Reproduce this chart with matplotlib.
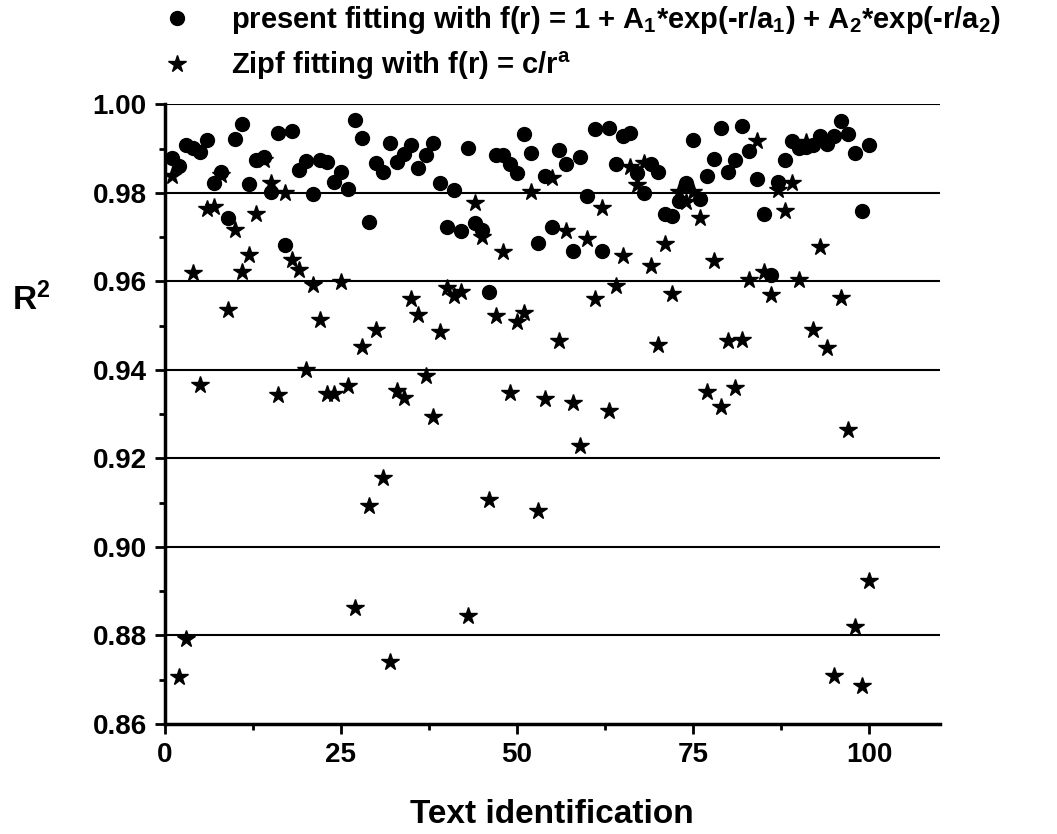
import numpy as np
from matplotlib import pyplot as plt
from matplotlib.ticker import MultipleLocator

plt.rcParams['font.family'] = ['Liberation Sans Narrow', 'Liberation Sans', 'DejaVu Sans']
plt.rcParams['font.weight'] = 'bold'
plt.rcParams['mathtext.default'] = 'regular'

text_id = list(range(1, 101))

present_r2 = [
    0.9879, 0.9860, 0.9907, 0.9901, 0.9891, 0.9920, 0.9822, 0.9847, 0.9743, 0.9921,
    0.9956, 0.9820, 0.9873, 0.9881, 0.9801, 0.9935, 0.9682, 0.9940, 0.9851, 0.9872,
    0.9798, 0.9875, 0.9869, 0.9824, 0.9848, 0.9809, 0.9964, 0.9924, 0.9734, 0.9868,
    0.9846, 0.9913, 0.9870, 0.9887, 0.9907, 0.9856, 0.9885, 0.9913, 0.9822, 0.9723,
    0.9806, 0.9713, 0.9902, 0.9732, 0.9716, 0.9576, 0.9886, 0.9886, 0.9865, 0.9845,
    0.9932, 0.9890, 0.9686, 0.9838, 0.9722, 0.9896, 0.9864, 0.9669, 0.9881, 0.9793,
    0.9945, 0.9668, 0.9947, 0.9865, 0.9928, 0.9934, 0.9844, 0.9800, 0.9865, 0.9846,
    0.9752, 0.9748, 0.9781, 0.9821, 0.9920, 0.9785, 0.9838, 0.9877, 0.9947, 0.9846,
    0.9874, 0.9951, 0.9895, 0.9830, 0.9752, 0.9614, 0.9825, 0.9874, 0.9917, 0.9902,
    0.9904, 0.9907, 0.9928, 0.9911, 0.9928, 0.9962, 0.9932, 0.9889, 0.9759, 0.9907,
]

zipf_r2 = [
    0.9838, 0.8705, 0.8792, 0.9618, 0.9365, 0.9764, 0.9767, 0.9840, 0.9535, 0.9715,
    0.9620, 0.9659, 0.9752, 0.9873, 0.9823, 0.9344, 0.9800, 0.9647, 0.9626, 0.9400,
    0.9592, 0.9513, 0.9346, 0.9346, 0.9598, 0.9364, 0.8863, 0.9452, 0.9093, 0.9490,
    0.9155, 0.8741, 0.9352, 0.9336, 0.9560, 0.9524, 0.9385, 0.9294, 0.9486, 0.9584,
    0.9567, 0.9575, 0.8843, 0.9776, 0.9699, 0.9106, 0.9522, 0.9667, 0.9348, 0.9509,
    0.9528, 0.9801, 0.9080, 0.9334, 0.9834, 0.9464, 0.9714, 0.9326, 0.9228, 0.9695,
    0.9559, 0.9765, 0.9307, 0.9589, 0.9657, 0.9858, 0.9817, 0.9868, 0.9634, 0.9456,
    0.9684, 0.9571, 0.9802, 0.9780, 0.9802, 0.9743, 0.9351, 0.9646, 0.9317, 0.9464,
    0.9358, 0.9467, 0.9604, 0.9917, 0.9622, 0.9570, 0.9807, 0.9759, 0.9823, 0.9604,
    0.9915, 0.9490, 0.9678, 0.9450, 0.8708, 0.9563, 0.9263, 0.8818, 0.8685, 0.8923,
]

fig = plt.figure(figsize=(10.57, 8.34), dpi=100)
ax = fig.add_axes([0.156, 0.132, 0.733, 0.743])

for yv in np.arange(0.88, 1.001, 0.02):
    ax.axhline(yv, color='black', lw=1.5, zorder=1)

p1, = ax.plot(text_id, present_r2, 'o', color='black', ms=10, ls='none', zorder=3,
              label='present fitting with f(r) = 1 + A$_1$*exp(-r/a$_1$) + A$_2$*exp(-r/a$_2$)')
p2, = ax.plot(text_id, zipf_r2, '*', color='black', ms=13, ls='none', zorder=3,
              label='Zipf fitting with f(r) = c/r$^a$')

ax.set_xlim(0, 110)
ax.set_ylim(0.86, 1.0)
ax.xaxis.set_major_locator(MultipleLocator(25))
ax.xaxis.set_minor_locator(MultipleLocator(12.5))
ax.yaxis.set_major_locator(MultipleLocator(0.02))
ax.yaxis.set_minor_locator(MultipleLocator(0.01))
ax.yaxis.set_major_formatter(plt.FormatStrFormatter('%.2f'))

for s in ['top', 'right']:
    ax.spines[s].set_visible(False)
for s in ['left', 'bottom']:
    ax.spines[s].set_linewidth(2.5)

ax.tick_params(which='major', direction='out', length=7, width=2, labelsize=20, pad=6)
ax.tick_params(which='minor', direction='out', length=4, width=2)

ax.set_xlabel('Text identification', fontsize=24, fontweight='bold',
              family=['Liberation Sans', 'DejaVu Sans'], labelpad=22)
ax.set_ylabel('R$^2$', fontsize=24, fontweight='bold', rotation=0,
              family=['Liberation Sans', 'DejaVu Sans'], va='center', ha='center')
ax.yaxis.set_label_coords(-0.172, 0.685)

fig.legend(handles=[p1, p2], loc='upper left', bbox_to_anchor=(0.151, 1.0),
           frameon=False, fontsize=21, handlelength=0.9, handletextpad=1.4,
           borderpad=0.15, borderaxespad=0.0, labelspacing=0.45, markerscale=1.0)

plt.savefig('out.png', dpi=100)
